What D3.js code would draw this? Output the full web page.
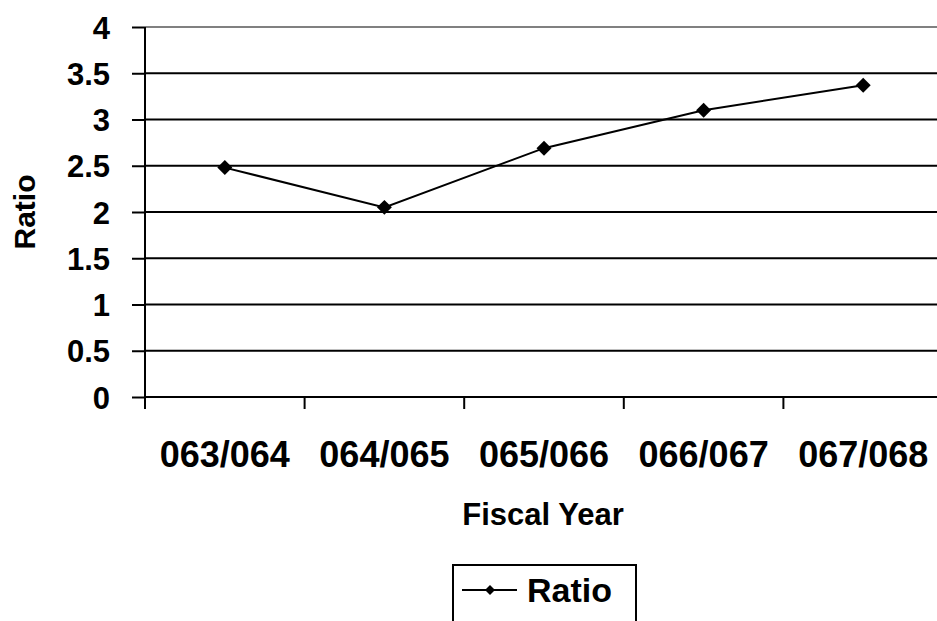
<!DOCTYPE html>
<html><head><meta charset="utf-8">
<script src="https://cdn.jsdelivr.net/npm/d3@7"></script>
<style>body{margin:0;background:#fff}svg{display:block;font-family:Arial,"Liberation Sans",sans-serif;font-weight:bold}</style>
</head><body><svg id="c" width="937" height="621"></svg>
<script>
const categories = ["063/064","064/065","065/066","066/067","067/068"];
const ratioValues = [2.48, 2.05, 2.69, 3.10, 3.37];
const yTicks = [0,0.5,1,1.5,2,2.5,3,3.5,4];
const seriesName = "Ratio";

(function(){
const svg = d3.select("#c");
const pLeft = 145, pRight = 943, pTop = 27, pBottom = 397;
const x = d3.scaleBand().domain(categories).range([pLeft, pRight]);
const y = d3.scaleLinear().domain([0,4]).range([pBottom, pTop]);
const FONT = "Arial, 'Liberation Sans', sans-serif";

// gridlines
svg.append("g").selectAll("line").data(yTicks.filter(d=>d>0)).join("line")
  .attr("x1", pLeft).attr("x2", 937).attr("y1", d=>y(d)).attr("y2", d=>y(d))
  .attr("stroke", d=> d===4 ? "#808080" : "#000").attr("stroke-width", 2);

// y axis
const ya = svg.append("g").attr("transform",`translate(${pLeft},0)`)
  .call(d3.axisLeft(y).tickValues(yTicks).tickFormat(d3.format("~g")).tickSize(13).tickPadding(22));
ya.select(".domain").attr("stroke","#000").attr("stroke-width",2).attr("d",`M0,${pTop}V${pBottom}`);
ya.selectAll(".tick line").attr("stroke","#000").attr("stroke-width",2);
ya.selectAll("text").attr("font-size",31).attr("font-weight","bold").attr("fill","#000").attr("font-family",FONT).attr("dy","0.36em");

// x axis
const xa = svg.append("g").attr("transform",`translate(0,${pBottom})`)
  .call(d3.axisBottom(x).tickSize(0).tickPadding(0));
xa.select(".domain").attr("stroke","#000").attr("stroke-width",2).attr("d",`M${pLeft},0H937`);
xa.selectAll(".tick text").attr("font-size",36).attr("font-weight","bold").attr("fill","#000")
  .attr("font-family",FONT).attr("y",70).attr("dy",0);
svg.append("g").selectAll("line").data(categories).join("line")
  .attr("x1", d=>x(d)).attr("x2", d=>x(d)).attr("y1", pBottom).attr("y2", pBottom+12)
  .attr("stroke","#000").attr("stroke-width",2);

// axis titles
svg.append("text").attr("x", 543).attr("y", 525).attr("text-anchor","middle")
  .attr("font-size",31).text("Fiscal Year");
svg.append("text").attr("transform","translate(35,212) rotate(-90)").attr("text-anchor","middle")
  .attr("font-size",30).text("Ratio");

// line
const cx = d => x(d) + x.bandwidth()/2;
svg.append("path").datum(ratioValues)
  .attr("d", d3.line().x((d,i)=>cx(categories[i])).y(d=>y(d)))
  .attr("fill","none").attr("stroke","#000").attr("stroke-width",2);
svg.append("g").selectAll("path").data(ratioValues).join("path")
  .attr("transform",(d,i)=>`translate(${cx(categories[i])},${y(d)}) rotate(45)`)
  .attr("d", d3.symbol().type(d3.symbolSquare).size(112)).attr("fill","#000");

// legend
const lg = svg.append("g");
lg.append("rect").attr("x",453).attr("y",565).attr("width",183).attr("height",70)
  .attr("fill","#fff").attr("stroke","#000").attr("stroke-width",2);
lg.append("line").attr("x1",462).attr("x2",517).attr("y1",590).attr("y2",590).attr("stroke","#000").attr("stroke-width",2);
lg.append("path").attr("transform","translate(490,590) rotate(45)").attr("d", d3.symbol().type(d3.symbolSquare).size(50)).attr("fill","#000");
lg.append("text").attr("x",527).attr("y",602).attr("font-size",34).text(seriesName);
})();
</script></body></html>
